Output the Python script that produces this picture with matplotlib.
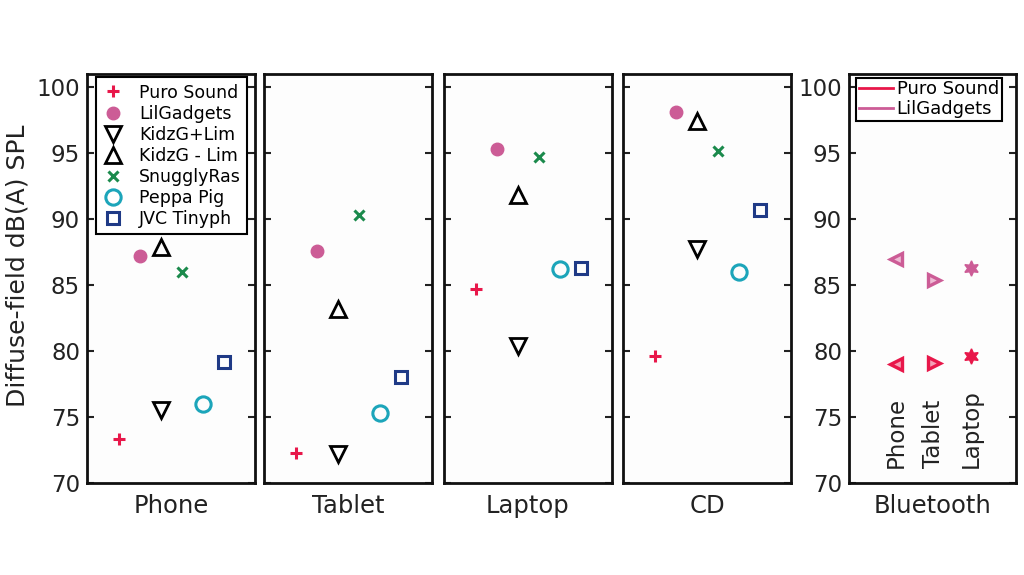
import matplotlib.pyplot as plt
import numpy as np

# source devices (panels) and headphone models
sources = ['Phone', 'Tablet', 'Laptop', 'CD']
models = ['Puro Sound', 'LilGadgets', 'KidzG+Lim', 'KidzG - Lim',
          'SnugglyRas', 'Peppa Pig', 'JVC Tinyph']
model_x = [1, 2, 3, 3, 4, 5, 6]

# diffuse-field dB(A) SPL, one list per source, same order as models
phone_spl = [73.3, 87.2, 75.5, 87.9, 86.0, 76.0, 79.2]
tablet_spl = [72.3, 87.6, 72.2, 83.2, 90.3, 75.3, 78.0]
laptop_spl = [84.7, 95.3, 80.4, 91.8, 94.7, 86.2, 86.3]
cd_spl = [79.6, 98.1, 87.7, 97.4, 95.2, 86.0, 90.7]
spl = [phone_spl, tablet_spl, laptop_spl, cd_spl]

# bluetooth measurements
bt_sources = ['Phone', 'Tablet', 'Laptop']
bt_models = ['Puro Sound', 'LilGadgets']
bt_puro = [79.0, 79.1, 79.6]
bt_lil = [87.0, 85.4, 86.3]

red = '#e8174a'
pink = '#cc5c96'
styles = [
    dict(marker='+', color=red, ms=9, mew=2.2, mfc=red),
    dict(marker='o', color=pink, ms=9, mew=1, mfc=pink, mec=pink),
    dict(marker='v', color='black', ms=11, mew=2, mfc='none'),
    dict(marker='^', color='black', ms=11, mew=2, mfc='none'),
    dict(marker='x', color='#1b8a4c', ms=7, mew=2.2),
    dict(marker='o', color='#1ca5ba', ms=11, mew=2.2, mfc='none'),
    dict(marker='s', color='#1f3a86', ms=9, mew=2.2, mfc='none'),
]

fig = plt.figure(figsize=(10.24, 5.75), dpi=100)
fig.patch.set_facecolor('white')

lefts = [87, 264, 444, 623]
width = 168
bottom = 1 - 483 / 575
height = (483 - 74) / 575
txt = '#222222'


def style_axes(ax):
    ax.set_facecolor('#fdfdfd')
    ax.set_ylim(70, 101)
    ax.set_yticks([70, 75, 80, 85, 90, 95, 100])
    ax.set_xticks([])
    ax.tick_params(axis='y', direction='in', left=True, right=True,
                   length=5, width=1.5, labelsize=16.5, pad=5, colors=txt)
    for s in ax.spines.values():
        s.set_linewidth(2)
        s.set_color('#111111')


for i, src in enumerate(sources):
    ax = fig.add_axes([lefts[i] / 1024, bottom, width / 1024, height])
    style_axes(ax)
    ax.set_xlim(-0.5, 7.5)
    for j, m in enumerate(models):
        ax.plot(model_x[j], spl[i][j], linestyle='none', label=m, **styles[j])
    ax.set_xlabel(src, fontsize=17.5, labelpad=8, color=txt)
    if i == 0:
        ax.set_ylabel('Diffuse-field dB(A) SPL', fontsize=18, color=txt)
        ax.yaxis.set_label_coords(-0.34, 0.53)
        leg = ax.legend(loc='upper left', fontsize=12.5, handlelength=1.2,
                        handletextpad=0.9, borderpad=0.35, labelspacing=0.18,
                        fancybox=False, framealpha=1, borderaxespad=0.2,
                        bbox_to_anchor=(0.035, 1.0))
        leg.get_frame().set_edgecolor('black')
        leg.get_frame().set_linewidth(1.5)
    else:
        ax.tick_params(axis='y', labelleft=False)

# bluetooth panel
ax = fig.add_axes([849 / 1024, bottom, 167 / 1024, height])
style_axes(ax)
ax.set_xlim(-0.27, 4.2)
bt_x = np.arange(1, len(bt_sources) + 1)
bt_markers = ['<', '>', (6, 1, 0)]
for vals, col, light, name in [(bt_puro, red, '#f5a0b6', 'Puro Sound'),
                               (bt_lil, pink, '#eebcd5', 'LilGadgets')]:
    ax.plot([], [], color=col, lw=2, label=name)
    for k in range(len(bt_sources)):
        if k < 2:
            ax.plot(bt_x[k], vals[k], marker=bt_markers[k], ms=9, mew=2.4,
                    mfc=light, mec=col, linestyle='none')
        else:
            ax.plot(bt_x[k], vals[k], marker=bt_markers[k], ms=11, mew=1,
                    mfc=col, mec=col, linestyle='none')
for k, name in enumerate(bt_sources):
    ax.text(bt_x[k], 71.1, name, rotation=90, ha='center', va='bottom',
            fontsize=16.5, color=txt)
ax.set_xlabel('Bluetooth', fontsize=17.5, labelpad=8, color=txt)
leg = ax.legend(loc='upper left', fontsize=13, handlelength=1.9,
                handletextpad=0.2, borderpad=0.15, labelspacing=0.1,
                fancybox=False, framealpha=1, borderaxespad=0.2,
                bbox_to_anchor=(0.02, 1.0))
leg.get_frame().set_edgecolor('black')
leg.get_frame().set_linewidth(1.5)

plt.savefig('out.png', dpi=100)
